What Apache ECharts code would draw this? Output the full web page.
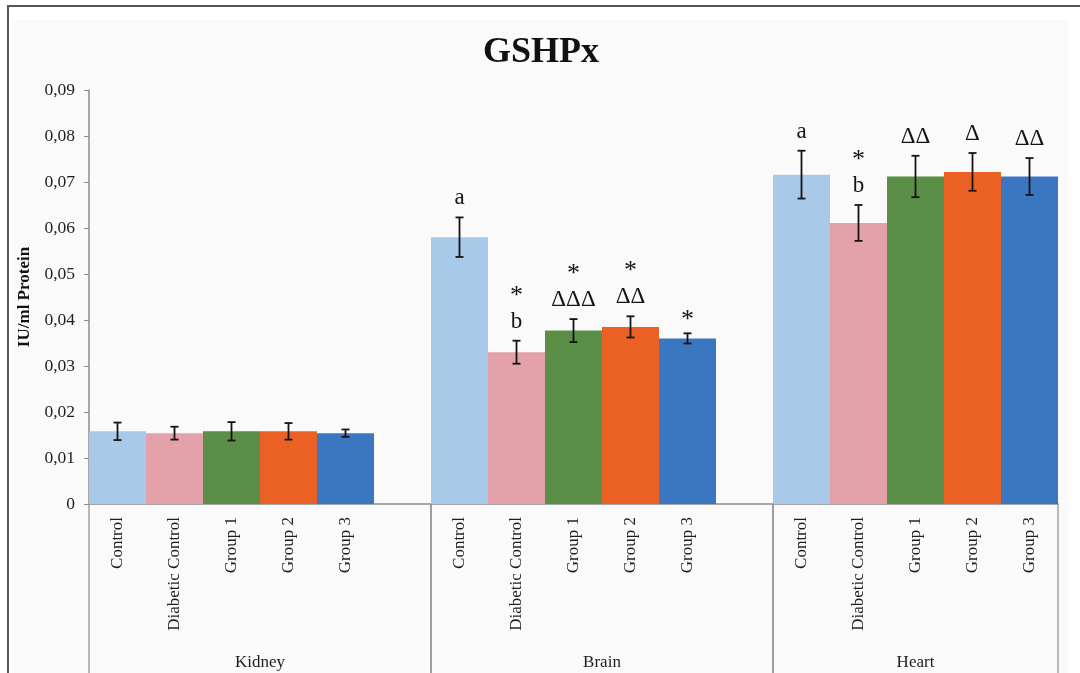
<!DOCTYPE html>
<html>
<head>
<meta charset="utf-8">
<title>GSHPx</title>
<script src="https://cdn.jsdelivr.net/npm/echarts@6/dist/echarts.min.js"></script>
<style>
  html, body { margin: 0; padding: 0; background: #ffffff; }
  #chart { width: 1080px; height: 673px; }
</style>
</head>
<body>
<div id="chart"></div>
<script>
// Tissues (outer category level) and treatment groups (inner level)
const groups = ['Kidney', 'Brain', 'Heart'];
const treatments = ['Control', 'Diabetic Control', 'Group 1', 'Group 2', 'Group 3'];
const treatmentColors = ['#a9c9e9', '#e3a2a9', '#5b8e47', '#eb6124', '#3b77c0'];

// GSHPx activity (IU/ml protein): means and error values per tissue
const kidneyMean = [0.0158, 0.0154, 0.0158, 0.0158, 0.0154];
const kidneyErr  = [0.0019, 0.0014, 0.0020, 0.0018, 0.0008];
const brainMean  = [0.0580, 0.0330, 0.0377, 0.0385, 0.0360];
const brainErr   = [0.0043, 0.0025, 0.0025, 0.0023, 0.0011];
const heartMean  = [0.0716, 0.0611, 0.0712, 0.0722, 0.0712];
const heartErr   = [0.0052, 0.0039, 0.0045, 0.0041, 0.0040];

// Significance marks printed above each error bar (lines listed top to bottom)
const kidneyMarks = ['', '', '', '', ''];
const brainMarks  = ['a', '*\nb', '*\nΔΔΔ', '*\nΔΔ', '*'];
const heartMarks  = ['a', '*\nb', 'ΔΔ', 'Δ', 'ΔΔ'];

// Y axis tick labels (decimal comma)
const yTickLabels = ['0', '0,01', '0,02', '0,03', '0,04', '0,05', '0,06', '0,07', '0,08', '0,09'];

const means = [kidneyMean, brainMean, heartMean];
const errs = [kidneyErr, brainErr, heartErr];
const marks = [kidneyMarks, brainMarks, heartMarks];

// Build the flat category list: each tissue block followed by an empty slot (except the last)
const categories = [];
const barData = [];
const errData = [];
const markText = [];
const groupSpans = [];
groups.forEach(function (g, gi) {
  const start = categories.length;
  treatments.forEach(function (t, ti) {
    const idx = categories.length;
    categories.push(t);
    barData.push({ value: means[gi][ti], itemStyle: { color: treatmentColors[ti] } });
    errData.push([idx, means[gi][ti], errs[gi][ti]]);
    markText.push(marks[gi][ti]);
  });
  if (gi < groups.length - 1) {
    categories.push('');
    barData.push('-');
  }
  groupSpans.push([start, categories.length - 1]);
});

const serif = '"Liberation Serif", "Times New Roman", serif';
const axisGrey = '#8c8c8c';

const chart = echarts.init(document.getElementById('chart'), null, { renderer: 'canvas' });

chart.setOption({
  backgroundColor: '#ffffff',
  animation: false,
  title: {
    text: 'GSHPx',
    left: 478,
    top: 30,
    textStyle: { fontFamily: serif, fontSize: 36, fontWeight: 'bold', color: '#111' }
  },
  graphic: [
    { type: 'rect', z: -20, shape: { x: 11, y: 20, width: 1057, height: 700 }, style: { fill: '#fafafa' } },
    { type: 'rect', z: -10, shape: { x: 8, y: 6, width: 1120, height: 720 }, style: { fill: 'none', stroke: '#555', lineWidth: 2 } }
  ],
  grid: { left: 89, right: 22, top: 90, bottom: 169, containLabel: false },
  xAxis: {
    type: 'category',
    data: categories,
    axisLine: { lineStyle: { color: axisGrey, width: 1.5 } },
    axisTick: { show: false },
    axisLabel: {
      interval: 0,
      rotate: 90,
      margin: 13,
      fontFamily: serif,
      fontSize: 17,
      color: '#1e1e1e'
    },
    splitLine: { show: false }
  },
  yAxis: {
    type: 'value',
    min: 0,
    max: 0.09,
    interval: 0.01,
    name: 'IU/ml Protein',
    nameLocation: 'middle',
    nameGap: 51,
    nameTextStyle: { fontFamily: serif, fontSize: 17, fontWeight: 'bold', color: '#111' },
    axisLine: { show: true, lineStyle: { color: axisGrey, width: 1.5 } },
    axisTick: { show: true, length: 5, lineStyle: { color: axisGrey } },
    axisLabel: {
      margin: 14,
      fontFamily: serif,
      fontSize: 17.5,
      color: '#1e1e1e',
      formatter: function (v) { return yTickLabels[Math.round(v * 100)]; }
    },
    splitLine: { show: false }
  },
  series: [
    {
      type: 'bar',
      data: barData,
      barWidth: '100%',
      barCategoryGap: '0%',
      z: 2
    },
    {
      // error bars with significance marks above them
      type: 'custom',
      data: errData,
      z: 5,
      clip: false,
      renderItem: function (params, api) {
        const x = api.value(0);
        const m = api.value(1);
        const e = api.value(2);
        const top = api.coord([x, m + e]);
        const bot = api.coord([x, m - e]);
        const cap = 4;
        const lineStyle = { stroke: '#141414', lineWidth: 1.8 };
        const children = [
          { type: 'line', shape: { x1: top[0], y1: top[1], x2: bot[0], y2: bot[1] }, style: lineStyle },
          { type: 'line', shape: { x1: top[0] - cap, y1: top[1], x2: top[0] + cap, y2: top[1] }, style: lineStyle },
          { type: 'line', shape: { x1: bot[0] - cap, y1: bot[1], x2: bot[0] + cap, y2: bot[1] }, style: lineStyle }
        ];
        const txt = markText[params.dataIndex];
        if (txt) {
          const lines = txt.split('\n').reverse();
          lines.forEach(function (ln, k) {
            const isStar = ln === '*';
            children.push({
              type: 'text',
              style: {
                text: ln,
                x: top[0],
                y: top[1] - 19 - k * 32 + (isStar ? 6 : 0),
                align: 'center',
                verticalAlign: 'middle',
                font: (isStar ? '26px ' : '23px ') + serif,
                fill: '#141414'
              }
            });
          });
        }
        return { type: 'group', children: children };
      }
    },
    {
      // tissue separators and outer-level labels below the axis
      type: 'custom',
      data: groupSpans.map(function (s) { return [s[0], 0]; }),
      z: 3,
      clip: false,
      silent: true,
      renderItem: function (params, api) {
        const span = groupSpans[params.dataIndex];
        const bw = api.size([1, 0])[0];
        const p0 = api.coord([span[0], 0]);
        const p1 = api.coord([span[1], 0]);
        const left = p0[0] - bw / 2;
        const right = p1[0] + bw / 2;
        const y0 = p0[1];
        const yEnd = api.getHeight() + 5;
        const ls = { stroke: axisGrey, lineWidth: 1.2 };
        return {
          type: 'group',
          children: [
            { type: 'line', shape: { x1: left, y1: y0, x2: left, y2: yEnd }, style: ls },
            { type: 'line', shape: { x1: right, y1: y0, x2: right, y2: yEnd }, style: ls },
            {
              type: 'text',
              style: {
                text: groups[params.dataIndex],
                x: (left + right) / 2,
                y: y0 + 159,
                align: 'center',
                verticalAlign: 'middle',
                font: '17px ' + serif,
                fill: '#1e1e1e'
              }
            }
          ]
        };
      }
    }
  ]
});
</script>
</body>
</html>
